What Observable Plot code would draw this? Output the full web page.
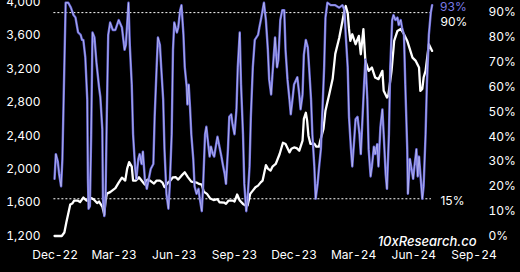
<!DOCTYPE html>
<html><head><meta charset="utf-8">
<script src="https://cdn.jsdelivr.net/npm/d3@7"></script>
<script src="https://cdn.jsdelivr.net/npm/@observablehq/plot@0.6"></script>
<style>
html,body{margin:0;padding:0;background:#000;}
#chart svg{display:block;}
</style></head><body><div id="chart"></div>
<script>
// day offsets are counted from this date
const startDate = "2022-12-01";
// [day offset, price] for the white line (left axis)
const priceSeries = [[-1,1200],[10,1200],[14,1242],[17,1361],[21,1504],[23,1576],[26,1588],[29,1624],[34,1624],[38,1606],[43,1660],[48,1624],[51,1624],[55,1654],[59,1636],[64,1594],[67,1612],[72,1552],[75,1457],[77,1624],[79,1707],[84,1725],[89,1755],[92,1773],[97,1839],[102,1898],[107,1863],[110,2006],[113,2084],[117,2030],[119,1863],[123,1863],[128,1902],[132,1863],[137,1815],[141,1875],[145,1863],[151,1827],[155,1863],[160,1863],[164,1839],[167,1785],[173,1842],[176,1863],[180,1902],[184,1904],[188,1875],[193,1922],[198,1962],[203,1902],[208,1851],[216,1839],[220,1823],[224,1815],[227,1731],[232,1704],[237,1648],[242,1630],[248,1642],[251,1604],[258,1600],[261,1584],[265,1624],[271,1624],[274,1612],[278,1696],[282,1624],[287,1584],[291,1564],[294,1564],[298,1704],[302,1743],[306,1783],[310,1803],[314,1842],[317,1863],[322,2048],[325,2006],[329,1982],[332,2030],[337,2062],[343,2181],[348,2316],[352,2301],[358,2201],[361,2245],[365,2260],[369,2251],[373,2221],[375,2269],[378,2340],[380,2603],[383,2675],[385,2579],[387,2400],[390,2304],[396,2304],[399,2269],[403,2269],[405,2340],[408,2424],[410,2484],[413,2699],[419,2901],[424,3081],[428,3379],[434,3570],[439,3773],[442,3904],[444,3952],[447,3869],[449,3678],[451,3534],[454,3614],[459,3495],[464,3594],[467,3375],[471,3674],[474,3296],[479,3176],[484,3216],[489,3096],[494,3077],[500,3176],[502,2937],[507,2857],[509,2878],[514,3176],[518,3534],[523,3654],[528,3678],[533,3614],[538,3534],[546,3335],[551,3295],[556,3216],[558,2937],[561,2961],[563,3096],[566,3176],[571,3495],[576,3415]];
// [day offset, percent] for the purple line (right axis)
const shareSeries = [[-1,23],[1,33],[4,30],[6,25],[9,20],[11,31],[16,94],[20,94],[24,92],[28,89],[31,88],[33,85],[35,82],[39,81],[41,79],[43,79],[46,72],[49,55],[50,23],[51,11],[53,12],[55,41],[57,82],[60,80],[63,70],[67,60],[69,56],[72,43],[73,15],[75,8],[77,17],[79,51],[81,81],[84,86],[88,83],[92,83],[97,87],[102,84],[106,75],[108,77],[112,94],[114,77],[117,61],[119,41],[122,28],[124,23],[127,31],[129,33],[132,29],[134,34],[137,23],[140,19],[143,23],[146,27],[150,29],[152,48],[155,68],[157,80],[160,77],[162,68],[165,55],[167,35],[170,17],[173,11],[175,20],[178,41],[180,75],[182,86],[186,82],[188,84],[191,91],[193,93],[196,81],[198,68],[201,60],[202,53],[204,61],[206,52],[208,41],[211,31],[213,20],[216,17],[219,19],[221,15],[224,10],[226,20],[229,41],[231,44],[233,39],[236,32],[238,36],[241,33],[243,32],[246,37],[248,40],[251,36],[254,32],[256,29],[259,25],[261,21],[264,35],[266,48],[269,49],[271,45],[274,41],[277,51],[279,68],[282,82],[284,61],[287,41],[289,21],[292,10],[294,15],[297,28],[299,48],[302,68],[305,79],[310,81],[312,84],[315,88],[319,94],[322,87],[325,75],[327,63],[330,57],[332,65],[336,80],[339,68],[341,71],[344,87],[347,91],[350,91],[352,75],[355,63],[358,55],[360,49],[363,56],[365,61],[370,64],[373,57],[375,51],[378,57],[380,73],[383,79],[386,76],[388,68],[391,55],[393,41],[396,28],[398,15],[401,21],[403,27],[406,35],[408,48],[411,68],[413,88],[416,94],[421,93],[428,93],[434,92],[439,93],[442,91],[444,81],[447,68],[449,48],[452,35],[454,28],[457,39],[459,47],[462,48],[465,41],[467,33],[469,44],[472,61],[474,71],[477,55],[479,35],[482,24],[484,28],[487,36],[489,33],[492,37],[494,28],[497,44],[500,51],[502,41],[505,25],[507,19],[510,41],[512,68],[515,87],[517,89],[520,87],[523,88],[525,85],[528,87],[530,84],[533,81],[535,61],[538,35],[539,17],[542,31],[544,28],[547,23],[549,28],[552,35],[554,24],[556,32],[558,25],[561,15],[563,20],[566,41],[568,61],[571,81],[574,90],[576,93]];
const xTickDates = ["2022-12-01","2023-03-01","2023-06-01","2023-09-01","2023-12-01","2024-03-01","2024-06-01","2024-09-01"];
const priceTicks = [1200,1600,2000,2400,2800,3200,3600,4000];
const shareTicks = [0,10,20,30,40,50,60,70,80,90];
const thresholds = [90, 15];
const thresholdSpan = [-2, 575];
const callouts = [
  {label:"93%", share:93, day:576, color:"#7b7be6", dx:8, dy:2},
  {label:"90%", share:90, day:575, color:"#ffffff", dx:9, dy:10},
  {label:"15%", share:15, day:575, color:"#ffffff", dx:9, dy:2}
];
const watermark = "10xResearch.co";

const t0 = Date.parse(startDate + "T00:00:00Z");
const day = n => new Date(t0 + n * 864e5);
// right axis (share, %) expressed in left-axis units
const shareToPrice = p => 1200 + p * 29.7;

const price = priceSeries.map(([d, v]) => ({date: day(d), v}));
const share = shareSeries.map(([d, p]) => ({date: day(d), v: shareToPrice(p)}));

const chart = Plot.plot({
  width: 520, height: 272,
  marginLeft: 44, marginRight: 36, marginTop: 0, marginBottom: 36,
  style: {background: "#000", color: "#fff", fontFamily: "Inter, 'Open Sans', sans-serif", fontSize: "12px"},
  x: {type: "utc", domain: [new Date(xTickDates[0]), new Date(xTickDates[xTickDates.length-1])], range: [54.7, 473.5], label: null},
  y: {domain: [1200, 4000], range: [235.5, 1.5], label: null},
  marks: [
    Plot.axisX({ticks: xTickDates.map(d => new Date(d)), tickFormat: d3.utcFormat("%b-%y"), tickSize: 0, tickPadding: 14, label: null, fill: "#fff"}),
    Plot.axisY({anchor: "left", ticks: priceTicks, tickFormat: d3.format(","), tickSize: 0, tickPadding: 4, label: null, fill: "#fff"}),
    Plot.axisY({anchor: "right", ticks: shareTicks.map(shareToPrice), tickFormat: v => Math.round((v - 1200) / 29.7) + "%", tickSize: 0, tickPadding: 4, label: null, fill: "#fff"}),
    Plot.ruleY(thresholds, {y: shareToPrice, x1: () => day(thresholdSpan[0]), x2: () => day(thresholdSpan[1]), stroke: "#fff", strokeWidth: 1, strokeDasharray: "2,2"}),
    Plot.line(price, {x: "date", y: "v", stroke: "#fff", strokeWidth: 2.3, strokeLinejoin: "round"}),
    Plot.line(share, {x: "date", y: "v", stroke: "#6767d8", strokeWidth: 2.4, strokeLinejoin: "round"}),
    Plot.line(share, {x: "date", y: "v", stroke: "#c9c9f2", strokeWidth: 0.8, strokeOpacity: 0.9, strokeLinejoin: "round"}),
    ...callouts.map(c => Plot.text([c], {x: d => day(d.day), y: d => shareToPrice(d.share), text: "label", fill: c.color, textAnchor: "start", dx: c.dx, dy: c.dy, fontSize: 12})),
    Plot.text([watermark], {frameAnchor: "bottom-right", dx: -8, dy: 9, fill: "#fff", fontSize: 13, fontStyle: "italic", fontWeight: 500})
  ]
});
document.getElementById("chart").appendChild(chart);
</script></body></html>
